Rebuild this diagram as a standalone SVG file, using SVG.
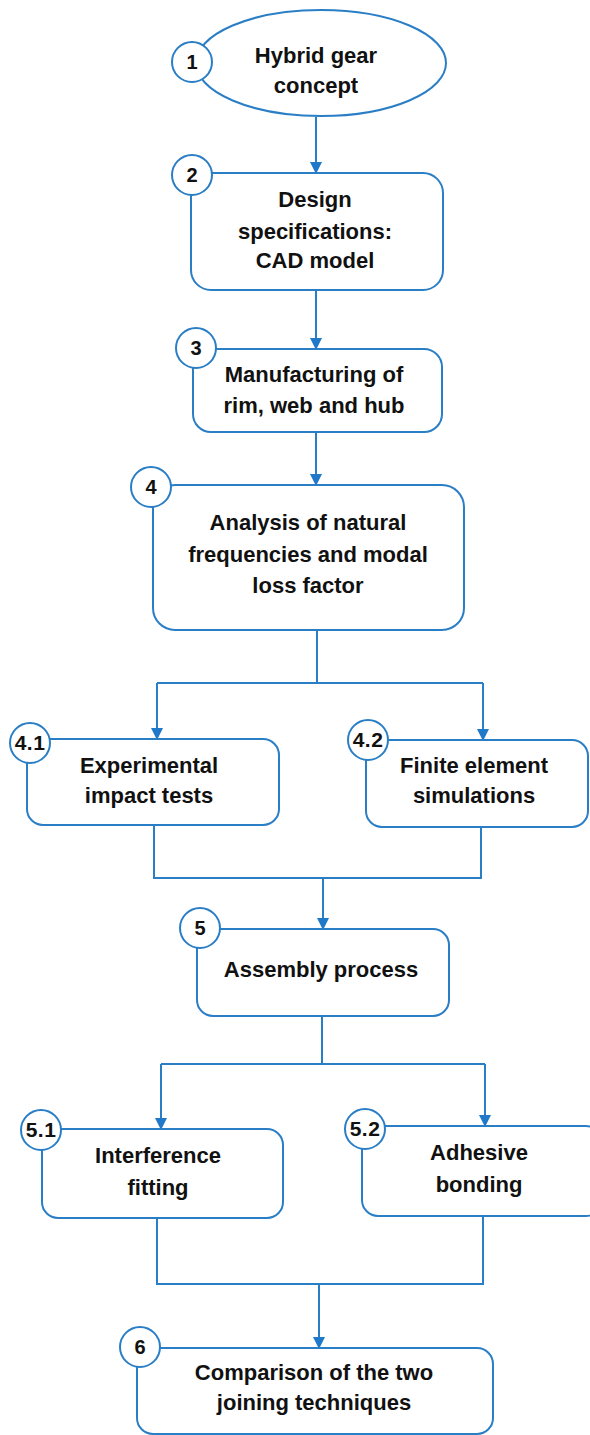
<svg xmlns="http://www.w3.org/2000/svg" width="590" height="1435" viewBox="0 0 590 1435">
<defs>
<style>
.box{fill:#fff;stroke:#2a7ec6;stroke-width:2}
.num{fill:#fff;stroke:#2a7ec6;stroke-width:2}
.t{font-family:"Liberation Sans",Arial,sans-serif;font-weight:bold;font-size:22px;fill:#111;text-anchor:middle}
.n{font-family:"Liberation Sans",Arial,sans-serif;font-weight:bold;font-size:20px;fill:#111;text-anchor:middle}
.d{font-size:21px;letter-spacing:0.5px}
.c{fill:none;stroke:#2a7ec6;stroke-width:2}
</style>
<marker id="ah" markerUnits="userSpaceOnUse" markerWidth="12" markerHeight="12" refX="11" refY="6" orient="auto" viewBox="0 0 12 12">
<path d="M0,0 L12,6 L0,12 z" fill="#1f78c8"/>
</marker>
</defs>
<rect width="590" height="1435" fill="#fff"/>
<g id="connectors">
<path class="c" d="M316,117 V173" marker-end="url(#ah)"/>
<path class="c" d="M316,290 V349" marker-end="url(#ah)"/>
<path class="c" d="M316,432 V485" marker-end="url(#ah)"/>
<path class="c" d="M317,630 V683 M157,683 H483"/>
<path class="c" d="M157,683 V739" marker-end="url(#ah)"/>
<path class="c" d="M483,683 V740" marker-end="url(#ah)"/>
<path class="c" d="M154,825 V878 H481 V827"/>
<path class="c" d="M323,878 V929" marker-end="url(#ah)"/>
<path class="c" d="M322,1016 V1064 M161,1064 H485"/>
<path class="c" d="M161,1064 V1129" marker-end="url(#ah)"/>
<path class="c" d="M485,1064 V1126" marker-end="url(#ah)"/>
<path class="c" d="M157,1218 V1284 H483 V1216"/>
<path class="c" d="M319,1284 V1348" marker-end="url(#ah)"/>
</g>
<g id="n1">
<ellipse class="box" cx="321" cy="63" rx="125" ry="53"/>
<circle class="num" cx="192" cy="62" r="20"/>
<text class="n" x="192" y="69">1</text>
<text class="t" x="316" y="63">Hybrid gear</text>
<text class="t" x="316" y="93">concept</text>
</g>
<g id="n2">
<rect class="box" x="191" y="173" width="252" height="117" rx="20"/>
<circle class="num" cx="192" cy="175" r="20"/>
<text class="n" x="192" y="182">2</text>
<text class="t" x="315" y="207">Design</text>
<text class="t" x="315" y="239">specifications:</text>
<text class="t" x="315" y="268">CAD model</text>
</g>
<g id="n3">
<rect class="box" x="193" y="349" width="249" height="83" rx="18"/>
<circle class="num" cx="196" cy="348" r="20"/>
<text class="n" x="196" y="355">3</text>
<text class="t" x="314" y="382">Manufacturing of</text>
<text class="t" x="314" y="413">rim, web and hub</text>
</g>
<g id="n4">
<rect class="box" x="153" y="485" width="311" height="145" rx="22"/>
<circle class="num" cx="151" cy="487" r="20"/>
<text class="n" x="151" y="494">4</text>
<text class="t" x="308" y="530">Analysis of natural</text>
<text class="t" x="308" y="562">frequencies and modal</text>
<text class="t" x="308" y="593">loss factor</text>
</g>
<g id="n41">
<rect class="box" x="27" y="739" width="252" height="86" rx="16"/>
<circle class="num" cx="30" cy="743" r="20"/>
<text class="n d" x="30" y="750">4.1</text>
<text class="t" x="149" y="773">Experimental</text>
<text class="t" x="149" y="803">impact tests</text>
</g>
<g id="n42">
<rect class="box" x="366" y="740" width="222" height="87" rx="16"/>
<circle class="num" cx="368" cy="740" r="20"/>
<text class="n d" x="368" y="747">4.2</text>
<text class="t" x="474" y="773">Finite element</text>
<text class="t" x="474" y="803">simulations</text>
</g>
<g id="n5">
<rect class="box" x="197" y="929" width="252" height="87" rx="16"/>
<circle class="num" cx="200" cy="928" r="20"/>
<text class="n" x="200" y="935">5</text>
<text class="t" x="321" y="977">Assembly process</text>
</g>
<g id="n51">
<rect class="box" x="42" y="1129" width="241" height="89" rx="16"/>
<circle class="num" cx="41" cy="1130" r="20"/>
<text class="n d" x="41" y="1137">5.1</text>
<text class="t" x="158" y="1163">Interference</text>
<text class="t" x="158" y="1195">fitting</text>
</g>
<g id="n52">
<rect class="box" x="362" y="1126" width="240" height="90" rx="16"/>
<circle class="num" cx="365" cy="1129" r="20"/>
<text class="n d" x="365" y="1136">5.2</text>
<text class="t" x="479" y="1160">Adhesive</text>
<text class="t" x="479" y="1192">bonding</text>
</g>
<g id="n6">
<rect class="box" x="137" y="1348" width="356" height="86" rx="16"/>
<circle class="num" cx="140" cy="1347" r="20"/>
<text class="n" x="140" y="1354">6</text>
<text class="t" x="314" y="1380">Comparison of the two</text>
<text class="t" x="314" y="1410">joining techniques</text>
</g>
</svg>
